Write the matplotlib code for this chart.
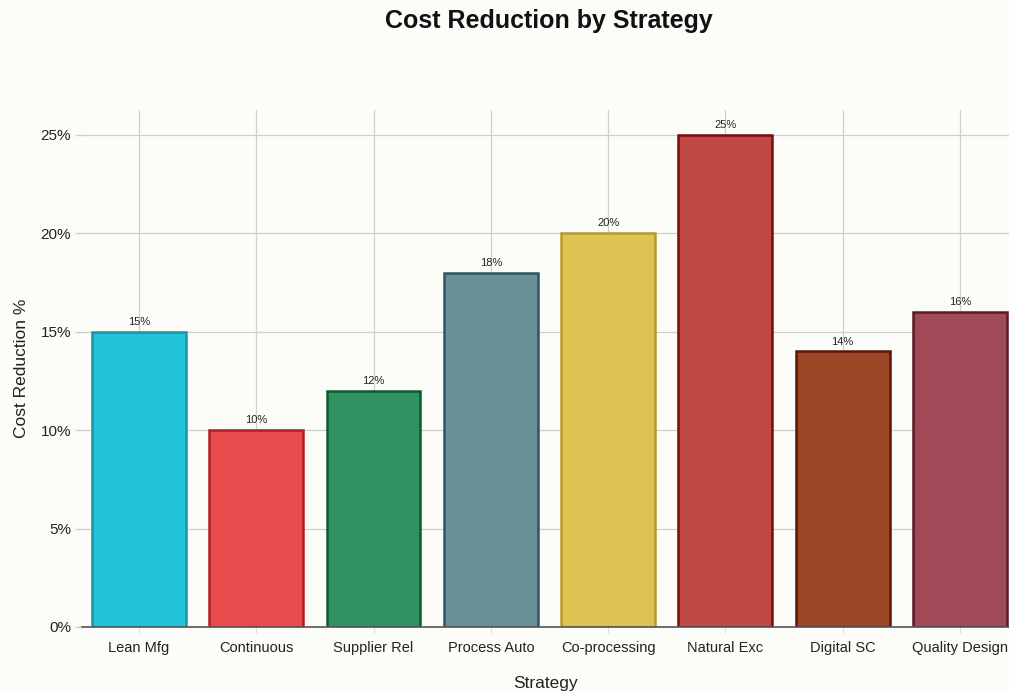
import matplotlib
matplotlib.use("Agg")
import matplotlib.pyplot as plt
from matplotlib.ticker import FuncFormatter

categories = ["Lean Mfg", "Continuous", "Supplier Rel", "Process Auto",
              "Co-processing", "Natural Exc", "Digital SC", "Quality Design"]
values = [15, 10, 12, 18, 20, 25, 14, 16]
fill_colors = ["#21C3D9", "#E84C4E", "#2F9461", "#679197",
               "#DEC352", "#BE4843", "#9C4628", "#A04A58"]
edge_colors = ["#1596A8", "#B01E22", "#0F5A2E", "#2F5560",
               "#B89A2C", "#7A0A0A", "#5A1505", "#5C1A28"]
y_ticks = [0, 5, 10, 15, 20, 25]

plt.rcParams['font.family'] = ['Liberation Sans', 'DejaVu Sans']
bg = "#FCFCF9"
fig = plt.figure(figsize=(10.09, 6.91), dpi=100, facecolor=bg)
W, H = 1009, 691
left, right, top, bottom = 82, 1009, 110, 627
ax = fig.add_axes([left / W, 1 - bottom / H, (right - left) / W, (bottom - top) / H])
ax.set_facecolor(bg)

x = list(range(len(categories)))
ax.bar(x, values, width=0.8, color=fill_colors, edgecolor=edge_colors, linewidth=1.8, zorder=3)
for xi, v in zip(x, values):
    ax.text(xi, v + 0.25, f"{v}%", ha="center", va="bottom", fontsize=8, color="#222222", zorder=4)

ax.set_xlim(-0.486, 7.418)
ax.set_ylim(0, 26.27)
ax.set_xticks(x)
ax.set_xticklabels(categories, fontsize=10.5, color="#222222")
ax.set_yticks(y_ticks)
ax.yaxis.set_major_formatter(FuncFormatter(lambda v, p: f"{int(v)}%"))
ax.tick_params(axis="y", labelsize=11, colors="#cccccc", labelcolor="#222222", length=5, width=1, pad=3)
ax.tick_params(axis="x", length=4, colors="#dddddd", labelcolor="#222222", pad=6)
ax.grid(True, color="#cfcfcc", linewidth=0.9, zorder=0)
for s in ["top", "right", "left"]:
    ax.spines[s].set_visible(False)
ax.spines["bottom"].set_color("#555555")
ax.spines["bottom"].set_linewidth(1.2)
ax.spines["bottom"].set_zorder(5)

ax.set_xlabel("Strategy", fontsize=12.5, color="#222222", labelpad=15)
ax.set_ylabel("Cost Reduction %", fontsize=12.5, color="#222222", labelpad=8)
fig.text(549 / W, 1 - 21 / H, "Cost Reduction by Strategy", ha="center", va="center",
         fontsize=18, fontweight="bold", color="#111111")

fig.savefig("out.png", dpi=100, facecolor=bg)
